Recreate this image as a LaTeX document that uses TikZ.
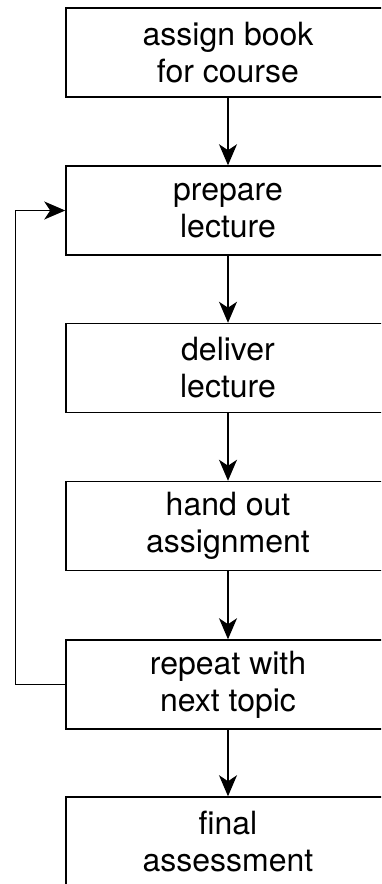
\documentclass[tikz,border=0pt]{standalone}
\usepackage{fontspec}
\setmainfont{TeX Gyre Heros}
\usetikzlibrary{arrows.meta}
\begin{document}
\begin{tikzpicture}[x=1pt,y=-1pt,
  stepbox/.style={draw=black,line width=1.5pt,minimum width=324pt,minimum height=89pt,
    inner sep=0pt,align=center,font=\fontsize{32}{37}\selectfont},
  arr/.style={line width=1.3pt,-{Stealth[length=21pt,width=18pt,inset=6pt]}}]
\useasboundingbox (0,0) rectangle (381,884);
\clip (0,0) rectangle (381,884);
\node[stepbox] (b1) at (228,52.5) {assign book\\for course};
\node[stepbox] (b2) at (228,210.5) {prepare\\lecture};
\node[stepbox] (b3) at (228,368) {deliver\\lecture};
\node[stepbox] (b4) at (228,526) {hand out\\assignment};
\node[stepbox] (b5) at (228,684.5) {repeat with\\next topic};
\node[stepbox] (b6) at (228,841.5) {final\\assessment};
\draw[arr] (b1) -- (b2);
\draw[arr] (b2) -- (b3);
\draw[arr] (b3) -- (b4);
\draw[arr] (b4) -- (b5);
\draw[arr] (b5) -- (b6);
\draw[arr] (b5.west) -- ++(-50,0) |- (b2.west);
\end{tikzpicture}
\end{document}
